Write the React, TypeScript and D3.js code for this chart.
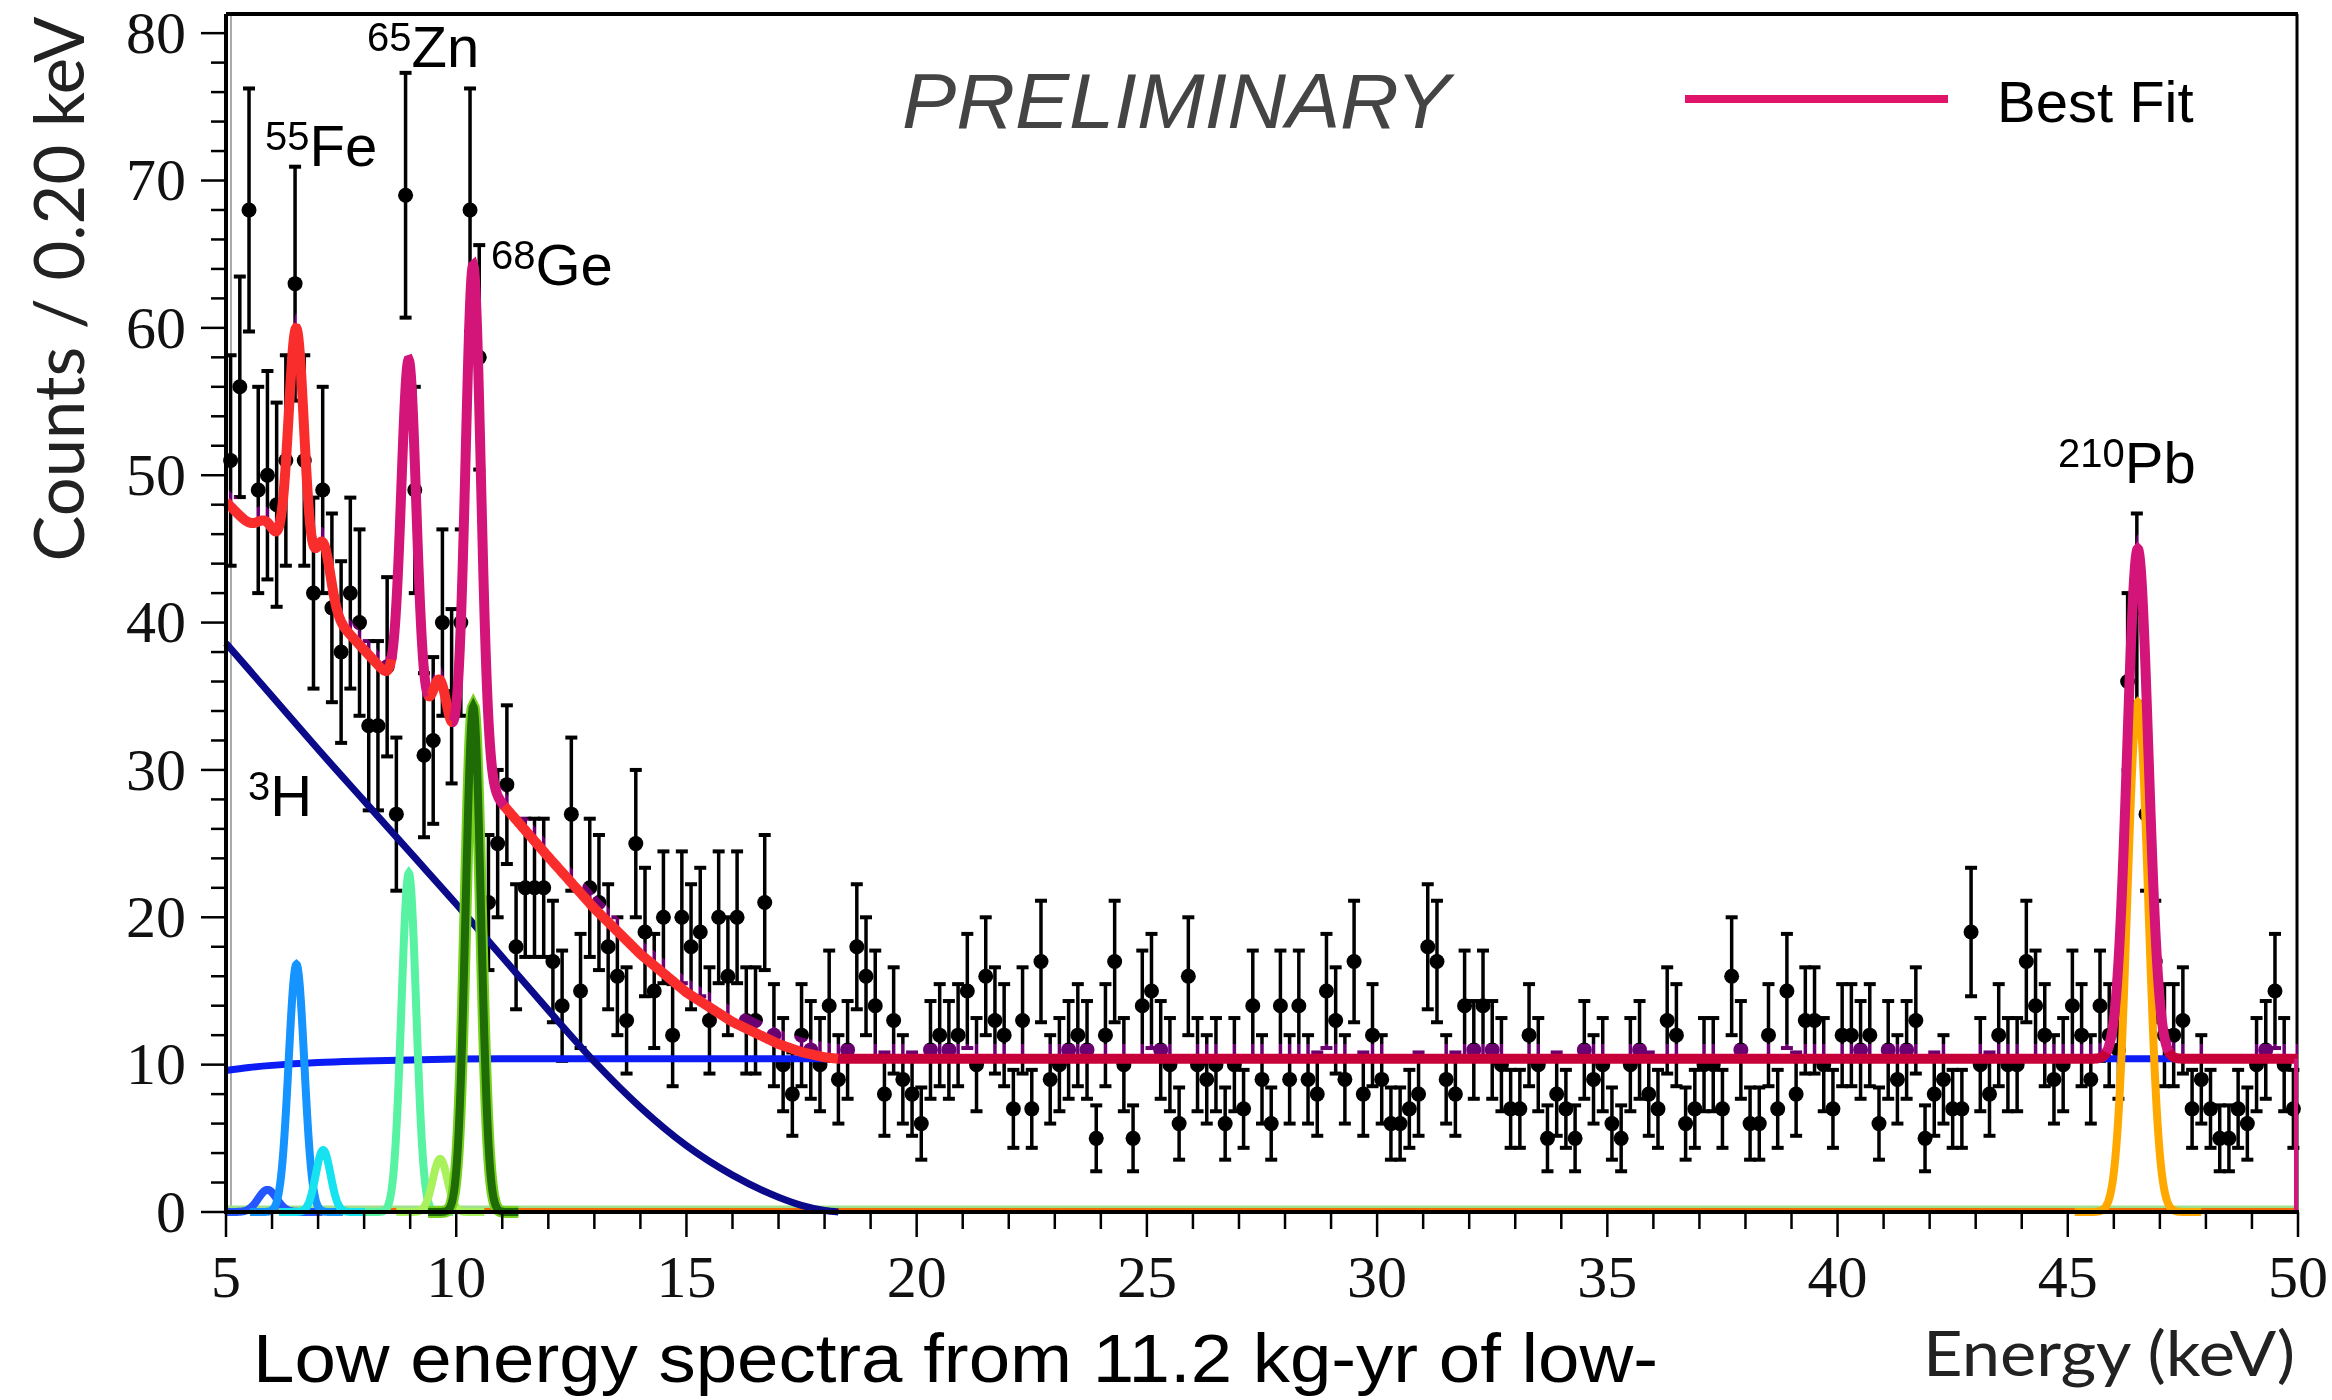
import React from 'react';
import * as d3 from 'd3';

// counts per 0.20 keV bin, first bin 5.0-5.2 keV
const counts = [
  51, 56, 68, 49, 50, 48, 51, 63, 51, 42, // 5-7
  49, 41, 38, 42, 40, 33, 33, 37, 27, 69, // 7-9
  49, 31, 32, 40, 35, 40, 68, 58, 21, 25, // 9-11
  29, 18, 22, 22, 22, 17, 14, 27, 15, 22, // 11-13
  21, 18, 16, 13, 25, 19, 15, 20, 12, 20, // 13-15
  18, 19, 13, 20, 16, 20, 13, 13, 21, 12, // 15-17
  10, 8, 12, 11, 10, 14, 9, 11, 18, 16, // 17-19
  14, 8, 13, 9, 8, 6, 11, 12, 11, 12, // 19-21
  15, 10, 16, 13, 12, 7, 13, 7, 17, 9, // 21-23
  10, 11, 12, 11, 5, 12, 17, 10, 5, 14, // 23-25
  15, 11, 10, 6, 16, 10, 9, 10, 6, 10, // 25-27
  7, 14, 9, 6, 14, 9, 14, 9, 8, 15, // 27-29
  13, 9, 17, 8, 12, 9, 6, 6, 7, 8, // 29-31
  18, 17, 9, 8, 14, 11, 14, 11, 10, 7, // 31-33
  7, 12, 10, 5, 8, 7, 5, 11, 9, 10, // 33-35
  6, 5, 10, 11, 8, 7, 13, 12, 6, 7, // 35-37
  10, 10, 7, 16, 11, 6, 6, 12, 7, 15, // 37-39
  8, 13, 13, 10, 7, 12, 12, 11, 12, 6, // 39-41
  11, 9, 11, 13, 5, 8, 9, 7, 7, 19, // 41-43
  10, 8, 12, 10, 10, 17, 14, 12, 9, 10, // 43-45
  14, 12, 9, 14, 12, 11, 36, 41, 27, 17, // 45-47
  12, 12, 13, 7, 9, 7, 5, 5, 7, 6, // 47-49
  10, 11, 15, 10, 7, // 49-50
];
const binStart = 5;
const binWidth = 0.2;

// fitted peaks
const peakCenters = [5.9, 6.53, 7.11, 8.97, 9.65, 10.37, 46.52];
const peakHeights = [1.5, 16.8, 4.2, 23.0, 3.6, 34.3, 34.6];
const peakSigmas = [0.2, 0.17, 0.16, 0.16, 0.16, 0.165, 0.23];
const peakColors = ['#2457ff', '#1593ff', '#16e3ef', '#57f2a2', '#a9f25e', '#1f6b05', '#ffa800'];

// tritium beta spectrum
const tritiumE = [5, 6, 7, 8, 9, 10, 11, 12, 13, 14, 15, 16, 17, 17.5, 18, 18.3];
const tritiumCounts = [38.6, 35.0, 31.4, 27.9, 24.4, 20.9, 17.3, 13.7, 10.2, 7.1, 4.5, 2.5, 1.0, 0.45, 0.1, 0];

// flat background
const flatE = [5, 5.5, 6, 7, 8, 9, 10, 11, 50];
const flatCounts = [9.6, 9.8, 9.95, 10.15, 10.25, 10.32, 10.38, 10.4, 10.4];

// colour of the best-fit curve by energy range
const fitSegStart = [5, 8.6, 9.4, 9.92, 11.05, 18.3, 45.85, 47.2];
const fitSegEnd = [8.6, 9.4, 9.92, 11.05, 18.3, 45.85, 47.2, 50];
const fitSegColor = ['#fa2d2d', '#d3157a', '#fa2d2d', '#d3157a', '#fa2d2d', '#c8003a', '#d3157a', '#c8003a'];

const xTicks = [5, 10, 15, 20, 25, 30, 35, 40, 45, 50];
const yTicks = [0, 10, 20, 30, 40, 50, 60, 70, 80];

const isoLabels = ['55', '65', '68', '3', '210'];
const isoElems = ['Fe', 'Zn', 'Ge', 'H', 'Pb'];
const isoX = [265, 367, 491, 248, 2058];
const isoY = [166, 67, 285, 816, 483];

const x = d3.scaleLinear().domain([5, 50]).range([226, 2298]);
const y = d3.scaleLinear().domain([0, 81.3]).range([1212, 14]);

const gauss = (e: number, c: number, h: number, s: number) =>
  h * Math.exp(-((e - c) ** 2) / (2 * s * s));
const tritium = d3.scaleLinear().domain(tritiumE).range(tritiumCounts).clamp(true);
const flat = d3.scaleLinear().domain(flatE).range(flatCounts).clamp(true);
const peaksAt = (e: number) =>
  peakCenters.reduce((s, c, k) => s + gauss(e, c, peakHeights[k], peakSigmas[k]), 0);
const total = (e: number) => flat(e) + tritium(e) + peaksAt(e);

const grid = d3.range(0, 4501).map(k => 5 + k * 0.01);

const line = d3.line<[number, number]>().x(d => x(d[0])).y(d => y(d[1]));
const smooth = d3.line<[number, number]>().x(d => x(d[0])).y(d => y(d[1])).curve(d3.curveMonotoneX);

export default function App() {
  const flatPath = smooth(flatE.map((e, k) => [e, flatCounts[k]]));
  const tritPath = smooth(tritiumE.map((e, k) => [e, tritiumCounts[k]]));
  const peakPaths = peakCenters.map((c, k) =>
    line(grid.filter(e => Math.abs(e - c) <= 6 * peakSigmas[k])
      .map(e => [e, gauss(e, c, peakHeights[k], peakSigmas[k])])));

  const band = d3.area<number>()
    .x(e => x(e))
    .y0(e => y(total(e)) - 1)
    .y1(e => y(total(e) + 1.0))(grid);

  const segPaths = fitSegStart.map((s, k) =>
    line(grid.filter(e => e >= s - 0.011 && e <= fitSegEnd[k] + 0.011).map(e => [e, total(e)])));

  return (
    <svg width={2332} height={1400} style={{ position: 'absolute', left: 0, top: 0, display: 'block', background: '#fff' }}>
      {/* frame */}
      <line x1={226} x2={2298} y1={14} y2={14} stroke="#000" strokeWidth={4} />
      <line x1={2297} x2={2297} y1={14} y2={1212} stroke="#000" strokeWidth={3} />
      <line x1={231} x2={231} y1={16} y2={1210} stroke="#aaa" strokeWidth={2} />

      {/* data points */}
      <g>
        {counts.map((n, i) => {
          const e = binStart + binWidth * (i + 0.5);
          const cx = x(e);
          const err = Math.sqrt(n);
          const top = y(n + err), bot = y(n - err);
          return (
            <g key={i}>
              <line x1={cx} x2={cx} y1={top} y2={bot} stroke="#000" strokeWidth={3.5} />
              <line x1={cx - 6} x2={cx + 6} y1={top} y2={top} stroke="#000" strokeWidth={4} />
              <line x1={cx - 6} x2={cx + 6} y1={bot} y2={bot} stroke="#000" strokeWidth={4} />
              <circle cx={cx} cy={y(n)} r={7.5} fill="#000" />
            </g>
          );
        })}
      </g>

      {/* tint of points just above the fit */}
      <path d={band || ''} fill="rgb(107,0,112)" style={{ mixBlendMode: 'screen' }} />

      {/* components */}
      <line x1={x(5)} x2={x(50)} y1={y(0) - 5} y2={y(0) - 5} stroke="#9fe08c" strokeWidth={3} />
      <line x1={x(5)} x2={x(50)} y1={y(0) - 2} y2={y(0) - 2} stroke="#f26a00" strokeWidth={4} />
      <path d={flatPath || ''} fill="none" stroke="#0b1cf5" strokeWidth={7} />
      <path d={tritPath || ''} fill="none" stroke="#0a0a8a" strokeWidth={7} />
      {peakPaths.map((p, k) => (
        <g key={k}>
          {k === 5 && <path d={p || ''} fill="none" stroke="#76d21e" strokeWidth={12} />}
          <path d={p || ''} fill="none" stroke={peakColors[k]} strokeWidth={8} />
        </g>
      ))}

      {/* best fit */}
      {segPaths.map((p, k) => (
        <path key={k} d={p || ''} fill="none" stroke={fitSegColor[k]} strokeWidth={10} />
      ))}
      <line x1={x(50) - 2} x2={x(50) - 2} y1={y(total(50))} y2={y(0)} stroke="#d3157a" strokeWidth={4} />

      {/* axes */}
      <line x1={226} x2={226} y1={14} y2={1214} stroke="#000" strokeWidth={4} />
      <line x1={224} x2={2299} y1={1212} y2={1212} stroke="#000" strokeWidth={4} />
      {d3.range(5, 51, 1).map(v => (
        <line key={'xm' + v} x1={x(v)} x2={x(v)} y1={1212} y2={v % 5 === 0 ? 1237 : 1229} stroke="#000" strokeWidth={2.5} />
      ))}
      {d3.range(0, 81, 2).map(v => (
        <line key={'ym' + v} x1={v % 10 === 0 ? 201 : 211} x2={226} y1={y(v)} y2={y(v)} stroke="#000" strokeWidth={2.5} />
      ))}
      {xTicks.map(v => (
        <text key={'xt' + v} x={x(v)} y={1297} textAnchor="middle" fontFamily="'Liberation Serif', serif" fontSize={60} fill="#111">{v}</text>
      ))}
      {yTicks.map(v => (
        <text key={'yt' + v} x={186} y={y(v)} dy="0.33em" textAnchor="end" fontFamily="'Liberation Serif', serif" fontSize={60} fill="#111">{v}</text>
      ))}

      <text transform="translate(84,289) rotate(-90)" textAnchor="middle" fontFamily="Lato, sans-serif" fontSize={70} fill="#222" textLength={545} lengthAdjust="spacingAndGlyphs">Counts / 0.20 keV</text>
      <text x={1923} y={1376} fontFamily="Lato, sans-serif" fontSize={62} fill="#222" textLength={372} lengthAdjust="spacingAndGlyphs">Energy (keV)</text>
      <text x={253} y={1382} fontFamily="'Liberation Sans', Arial, sans-serif" fontSize={68} fill="#000" textLength={1405} lengthAdjust="spacingAndGlyphs">Low energy spectra from 11.2 kg-yr of low-</text>

      {/* isotope labels */}
      {isoLabels.map((s, k) => (
        <text key={'iso' + k} x={isoX[k]} y={isoY[k]} fontFamily="'Liberation Sans', Arial, sans-serif" fontSize={58} fill="#000">
          <tspan fontSize={40} dy={-16}>{s}</tspan>
          <tspan dy={16}>{isoElems[k]}</tspan>
        </text>
      ))}

      <text x={902} y={128} fontFamily="'Liberation Sans', Arial, sans-serif" fontStyle="italic" fontSize={78} fill="#444" textLength={548} lengthAdjust="spacingAndGlyphs">PRELIMINARY</text>

      {/* legend */}
      <line x1={1685} x2={1948} y1={99} y2={99} stroke="#e0156a" strokeWidth={8} />
      <text x={1997} y={122} fontFamily="'Liberation Sans', Arial, sans-serif" fontSize={58} fill="#000">Best Fit</text>
    </svg>
  );
}
